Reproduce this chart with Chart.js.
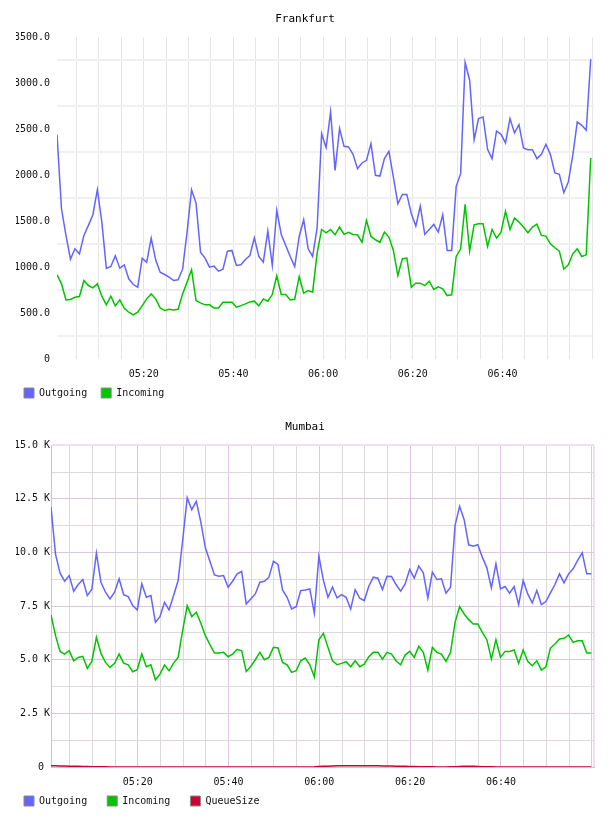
<!DOCTYPE html>
<html>
<head>
<meta charset="utf-8">
<script src="https://cdn.jsdelivr.net/npm/chart.js@4.4.1/dist/chart.umd.min.js"></script>
<style>
  html, body { margin: 0; padding: 0; background: #fff; }
  .box { position: absolute; left: 0; width: 608px; height: 408px; }
  #top { top: 0; }
  #bottom { top: 408px; }
</style>
</head>
<body>
<div class="box" id="top"><canvas id="frankfurt" width="608" height="408"></canvas></div>
<div class="box" id="bottom"><canvas id="mumbai" width="608" height="408"></canvas></div>
<script>
// minutes after 05:00 of the first sample, one sample per minute
const frankfurtStart = 0.67;
const mumbaiStart = 0.9;

// labelled ticks (minutes after 05:00)
const timeLabels = [20, 40, 60, 80, 100];

const frankfurtOutgoing = [
    2440, 1634, 1344, 1086, 1199, 1144, 1344, 1453, 1569, 1841,
    1489, 985, 1006, 1122, 988, 1024, 872, 810, 781, 1097,
    1053, 1315, 1079, 944, 919, 890, 854, 861, 977, 1380,
    1841, 1696, 1162, 1097, 999, 1010, 955, 977, 1173, 1181,
    1017, 1024, 1082, 1126, 1318, 1115, 1053, 1391, 1017, 1616,
    1355, 1235, 1115, 1006, 1333, 1515, 1199, 1115, 1427, 2451,
    2299, 2687, 2052, 2506, 2313, 2306, 2226, 2070, 2132, 2161,
    2342, 1998, 1990, 2179, 2259, 1979, 1689, 1790, 1790, 1580,
    1446, 1663, 1355, 1409, 1464, 1380, 1569, 1181, 1181, 1878,
    2016, 3225, 3032, 2386, 2615, 2633, 2281, 2179, 2480, 2444,
    2350, 2615, 2459, 2549, 2295, 2277, 2277, 2179, 2226, 2335,
    2226, 2023, 2008, 1809, 1925, 2215, 2579, 2542, 2488, 3261
];
const frankfurtIncoming = [
    915, 817, 643, 647, 672, 679, 854, 799, 774, 817,
    683, 589, 683, 578, 643, 552, 509, 480, 509, 581,
    654, 708, 654, 556, 527, 541, 534, 541, 708, 836,
    970, 636, 611, 589, 589, 556, 556, 618, 618, 618,
    563, 581, 600, 621, 629, 578, 654, 629, 701, 905,
    701, 701, 643, 650, 897, 716, 745, 727, 1151, 1409,
    1373, 1409, 1351, 1435, 1355, 1377, 1355, 1351, 1271, 1507,
    1333, 1297, 1268, 1380, 1326, 1181, 908, 1090, 1097, 781,
    825, 825, 799, 846, 756, 785, 763, 690, 698, 1115,
    1199, 1682, 1173, 1460, 1471, 1471, 1224, 1409, 1315, 1380,
    1605, 1409, 1533, 1489, 1435, 1373, 1435, 1467, 1344, 1337,
    1253, 1210, 1173, 977, 1024, 1144, 1199, 1115, 1133, 2186
];

const mumbaiOutgoing = [
    12118, 9906, 9034, 8660, 8925, 8193, 8505, 8738, 7990, 8286,
    9969, 8613, 8146, 7835, 8146, 8769, 8037, 7944, 7523, 7321,
    8536, 7913, 7990, 6744, 7009, 7679, 7321, 7990, 8691, 10561,
    12554, 11994, 12383, 11417, 10218, 9595, 8956, 8894, 8925, 8380,
    8660, 9003, 9112, 7601, 7835, 8068, 8613, 8660, 8847, 9595,
    9439, 8255, 7913, 7367, 7476, 8224, 8255, 8302, 7165, 9828,
    8700, 7913, 8380, 7881, 8037, 7913, 7367, 8271, 7866, 7757,
    8427, 8847, 8801, 8271, 8894, 8878, 8505, 8193, 8536, 9206,
    8801, 9361, 9050, 7881, 9081, 8738, 8769, 8099, 8380, 11262,
    12149, 11526, 10358, 10296, 10358, 9782, 9283, 8349, 9470, 8302,
    8411, 8099, 8411, 7570, 8691, 8068, 7648, 8224, 7570, 7710,
    8115, 8505, 9003, 8582, 9003, 9237, 9626, 9984, 9003, 9003
];
const mumbaiIncoming = [
    7087, 6121, 5389, 5265, 5420, 4953, 5109, 5156, 4595, 4922,
    6044, 5296, 4875, 4642, 4829, 5265, 4844, 4766, 4439, 4533,
    5265, 4673, 4766, 4065, 4330, 4751, 4486, 4844, 5109, 6355,
    7523, 7009, 7212, 6698, 6121, 5701, 5311, 5311, 5343, 5140,
    5265, 5483, 5420, 4455, 4688, 5000, 5343, 5000, 5109, 5576,
    5545, 4875, 4766, 4408, 4486, 4953, 5078, 4766, 4205, 5934,
    6230, 5576, 4953, 4766, 4829, 4906, 4673, 4953, 4673, 4797,
    5140, 5343, 5343, 5031, 5343, 5265, 4953, 4766, 5218, 5389,
    5109, 5623, 5343, 4517, 5576, 5343, 5265, 4922, 5343, 6744,
    7476, 7134, 6869, 6667, 6667, 6277, 5934, 5031, 5934, 5109,
    5389, 5389, 5452, 4829, 5452, 4922, 4720, 4953, 4517, 4673,
    5545, 5732, 5966, 5997, 6153, 5810, 5888, 5888, 5311, 5311
];
const mumbaiQueue = [
    60, 55, 50, 45, 40, 35, 30, 25, 20, 15,
    10, 8, 6, 5, 5, 4, 4, 3, 3, 3,
    2, 2, 2, 2, 2, 2, 2, 2, 2, 2,
    2, 2, 2, 2, 2, 2, 2, 2, 2, 2,
    2, 2, 2, 2, 2, 2, 2, 2, 2, 2,
    2, 2, 2, 2, 2, 2, 2, 5, 10, 20,
    30, 40, 50, 55, 60, 60, 60, 55, 55, 60,
    60, 55, 55, 50, 50, 45, 40, 35, 30, 25,
    20, 15, 10, 8, 6, 5, 5, 5, 8, 15,
    25, 35, 40, 35, 25, 15, 10, 6, 4, 3,
    2, 2, 2, 2, 2, 2, 2, 2, 2, 2,
    2, 2, 2, 2, 2, 2, 2, 2, 2, 2
];

const BLUE = '#6464ff';
const GREEN = '#00c400';
const RED = '#cc0033';

Chart.defaults.font.family = "'DejaVu Sans Mono', monospace";
Chart.defaults.font.size = 10;
Chart.defaults.color = '#111';

function clock(m) {
    m = Math.round(m);
    const h = 5 + Math.floor(m / 60);
    const mm = m % 60;
    return String(h).padStart(2, '0') + ':' + String(mm).padStart(2, '0');
}

function points(start, values) {
    return values.map((v, i) => ({x: start + i, y: v}));
}

function line(label, start, values, color) {
    return {
        label: label,
        data: points(start, values),
        borderColor: color,
        backgroundColor: color,
        borderWidth: 1.5,
        pointRadius: 0,
        tension: 0,
        fill: false
    };
}

function legendOpts(pad) {
    return {
        position: 'bottom',
        align: 'start',
        labels: {
            boxWidth: 10,
            boxHeight: 10,
            padding: 8,
            color: '#111',
            font: {size: 10},
            generateLabels: chart => Chart.defaults.plugins.legend.labels.generateLabels(chart)
                .map(l => Object.assign(l, {text: l.text + pad, strokeStyle: '#8a8a8a', lineWidth: 1}))
        }
    };
}

function titleOpts(text) {
    return {
        display: true,
        text: text,
        color: '#000',
        font: {size: 11, weight: 'normal'},
        padding: {top: 7, bottom: 11}
    };
}

function xTick(v) {
    return timeLabels.includes(Math.round(v)) && Math.abs(v - Math.round(v)) < 0.01 ? clock(v) : '';
}

function setupFrankfurt() {
    const ctx = document.getElementById('frankfurt');
    return new Chart(ctx, {
        type: 'line',
        data: {
            datasets: [
                line('Outgoing', frankfurtStart, frankfurtOutgoing, BLUE),
                line('Incoming', frankfurtStart, frankfurtIncoming, GREEN)
            ]
        },
        options: {
            responsive: false,
            animation: false,
            layout: {padding: {top: 6, left: 16, right: 14, bottom: 0}},
            plugins: {
                title: titleOpts('Frankfurt'),
                legend: legendOpts(' '),
                tooltip: {enabled: false}
            },
            scales: {
                x: {
                    type: 'linear',
                    min: frankfurtStart,
                    max: 120.4,
                    afterFit: s => { s.height = 21; },
                    border: {display: false},
                    grid: {drawTicks: false, color: '#e6e6e6', lineWidth: 1},
                    ticks: {stepSize: 5, includeBounds: false, autoSkip: false, maxRotation: 0, padding: 9, callback: xTick}
                },
                y: {
                    min: 0,
                    max: 3500,
                    afterFit: s => { s.width = 41; },
                    border: {display: false},
                    grid: {
                        drawTicks: false,
                        lineWidth: 2,
                        color: c => (c.tick && c.tick.value % 500) ? '#f0f0f0' : 'rgba(0,0,0,0)'
                    },
                    ticks: {
                        stepSize: 250,
                        padding: 7,
                        autoSkip: false,
                        callback: v => v % 500 ? '' : (v === 0 ? '0' : v.toFixed(1))
                    }
                }
            }
        }
    });
}

function setupMumbai() {
    const ctx = document.getElementById('mumbai');
    const major = '#dec6de';
    const minor = '#dedada';
    const edge = '#f0dff0';
    const xMax = 120.5;
    return new Chart(ctx, {
        type: 'line',
        data: {
            datasets: [
                line('Outgoing', mumbaiStart, mumbaiOutgoing, BLUE),
                line('Incoming', mumbaiStart, mumbaiIncoming, GREEN),
                line('QueueSize', mumbaiStart, mumbaiQueue, RED)
            ]
        },
        options: {
            responsive: false,
            animation: false,
            layout: {padding: {top: 6, left: 16, right: 14, bottom: 0}},
            plugins: {
                title: titleOpts('Mumbai'),
                legend: legendOpts('  '),
                tooltip: {enabled: false}
            },
            scales: {
                x: {
                    type: 'linear',
                    min: mumbaiStart,
                    max: xMax,
                    afterFit: s => { s.height = 21; },
                    afterBuildTicks: s => { s.ticks.push({value: s.max}); },
                    border: {display: true, color: '#d6bcd6', width: 1},
                    grid: {
                        drawTicks: false,
                        color: c => {
                            const v = c.tick ? c.tick.value : 0;
                            if (v === xMax) return edge;
                            return v % 20 === 0 ? major : minor;
                        },
                        lineWidth: c => (c.tick && c.tick.value === xMax) ? 2 : 1
                    },
                    ticks: {stepSize: 5, includeBounds: false, autoSkip: false, maxRotation: 0, padding: 9, callback: xTick}
                },
                y: {
                    min: 0,
                    max: 15000,
                    afterFit: s => { s.width = 35; },
                    border: {display: true, color: '#d6bcd6', width: 1},
                    grid: {
                        drawTicks: false,
                        color: c => {
                            const v = c.tick ? c.tick.value : 0;
                            if (v === 15000) return edge;
                            return v % 2500 === 0 ? major : minor;
                        },
                        lineWidth: c => (c.tick && c.tick.value === 15000) ? 2 : 1
                    },
                    ticks: {
                        stepSize: 1250,
                        padding: 1,
                        autoSkip: false,
                        callback: v => v % 2500 ? '' : (v === 0 ? '0 ' : (v / 1000).toFixed(1) + ' K')
                    }
                }
            }
        }
    });
}

window.addEventListener('DOMContentLoaded', () => {
    setupFrankfurt();
    setupMumbai();
});
</script>
</body>
</html>
